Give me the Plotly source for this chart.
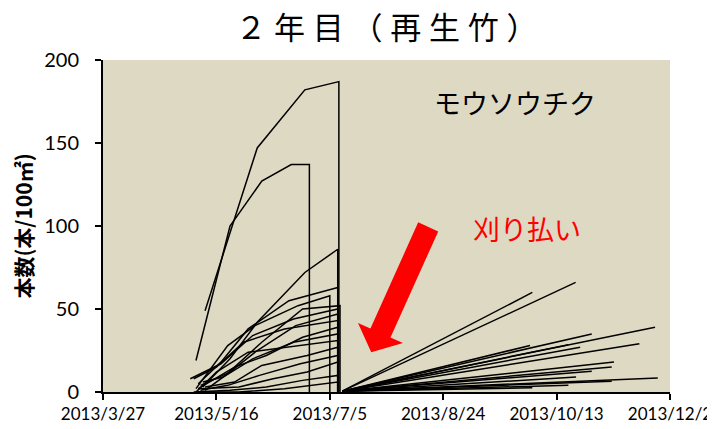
import plotly.graph_objects as go
import pandas as pd

BASE = pd.Timestamp("2013-03-27")

tick_dates = ["2013-03-27", "2013-05-16", "2013-07-05", "2013-08-24", "2013-10-13", "2013-12-02"]
tick_labels = ["2013/3/27", "2013/5/16", "2013/7/5", "2013/8/24", "2013/10/13", "2013/12/2"]
y_ticks = [0, 50, 100, 150, 200]

# Before cutting: days since 2013/3/27 and culm counts (per 100 m2)
pre_days = [
    [45, 68, 89, 104, 104],
    [41, 56, 70, 83, 91, 91],
    [44, 56, 68, 89, 103.5, 103.5],
    [42, 52, 64, 82, 103.5, 103.5],
    [41, 55, 67, 86, 100, 100],
    [45, 54, 70, 88, 104.5, 104.5],
    [43, 56, 68, 85, 103.5, 103.5],
    [40, 50, 62, 80, 103.5, 103.5],
    [42, 58, 72, 88, 103.5, 103.5],
    [44, 53, 66, 84, 103.5, 103.5],
    [41, 50, 64, 86, 103.5, 103.5],
    [45, 58, 70, 90, 103.5, 103.5],
    [43, 55, 69, 87, 103.5, 103.5],
    [42, 60, 75, 90, 103.5, 103.5],
    [40, 56, 72, 88, 103.5, 103.5],
    [44, 60, 80, 92, 103.5, 103.5],
    [38.5, 52, 66, 84, 103.5, 103.5],
]
pre_vals = [
    [49, 147, 182, 187, 0],
    [19, 100, 127, 137, 137, 0],
    [3, 20, 42, 72, 86, 0],
    [5, 18, 38, 55, 63, 0],
    [2, 28, 40, 52, 58, 0],
    [1, 10, 30, 50, 52, 0],
    [4, 12, 25, 40, 47, 0],
    [8, 15, 30, 38, 43, 0],
    [2, 15, 22, 33, 39, 0],
    [6, 9, 20, 30, 35, 0],
    [0, 12, 24, 28, 31, 0],
    [3, 6, 16, 22, 27, 0],
    [1, 4, 10, 17, 22, 0],
    [2, 3, 8, 12, 18, 0],
    [0, 1, 3, 7, 10, 0],
    [0, 0, 2, 4, 6, 0],
    [8, 17, 34, 44, 50, 0],
]

# After cutting: regrowth from the cutting date to the last survey
post_start_day = 105.5
post_start_val = 0.5
post_end_days = [189.3, 208.4, 215.5, 243.4, 236.5, 188.3, 205.2, 210.4,
                 225.3, 224.3, 215.5, 208.6, 244.6, 224.3, 205.2, 189.3]
post_end_vals = [60, 66, 35, 39, 29, 28, 28.5, 27,
                 18, 15, 12.5, 9, 8.5, 6.5, 4, 2.5]


def to_dates(days):
    return [BASE + pd.Timedelta(hours=d * 24) for d in days]


fig = go.Figure()
line_style = dict(color="black", width=1.5)

for d, v in zip(pre_days, pre_vals):
    fig.add_trace(go.Scatter(x=to_dates(d), y=v, mode="lines", line=line_style,
                             showlegend=False, hoverinfo="skip"))

for d, v in zip(post_end_days, post_end_vals):
    fig.add_trace(go.Scatter(x=to_dates([post_start_day, d]), y=[post_start_val, v],
                             mode="lines", line=line_style,
                             showlegend=False, hoverinfo="skip"))

# Red arrow (paper coordinates)
arrow_pts = [(0.5559, 0.5111), (0.5912, 0.4838), (0.5070, 0.1638), (0.5290, 0.1475),
             (0.4731, 0.1195), (0.4497, 0.2077), (0.4717, 0.1914)]
path = "M " + " L ".join(f"{x},{y}" for x, y in arrow_pts) + " Z"
fig.add_shape(type="path", path=path, xref="paper", yref="paper",
              fillcolor="#FF0000", line=dict(width=0), layer="above")

fig.add_annotation(text="モウソウチク", xref="paper", yref="paper", x=0.727, y=0.872,
                   xanchor="center", yanchor="middle",
                   showarrow=False, font=dict(family="Noto Sans CJK JP", size=27, color="black"))
fig.add_annotation(text="刈り払い", xref="paper", yref="paper", x=0.748, y=0.493,
                   xanchor="center", yanchor="middle",
                   showarrow=False, font=dict(family="Noto Sans CJK JP", size=27, color="#FF0000"))

sp = "\u2005"
title_text = sp.join("２年目（再生竹）")

# The page body adds an 8px offset, so the figure is sized to fit the window.
W, H = 707, 421
fig.update_layout(
    width=W, height=H,
    margin=dict(l=94.5, r=45, t=51.5, b=37.3),
    paper_bgcolor="white",
    plot_bgcolor="#DDD9C3",
    title=dict(text=title_text, x=0.5, xref="paper", y=1 - 20 / H, yref="container",
               xanchor="center", yanchor="middle",
               font=dict(family="Noto Sans CJK JP", size=31, color="black")),
    xaxis=dict(
        type="date", automargin=False,
        range=[tick_dates[0], tick_dates[-1]],
        tickvals=tick_dates, ticktext=tick_labels,
        showgrid=False, zeroline=False,
        showline=True, linecolor="black", linewidth=2,
        ticks="outside", ticklen=6, tickwidth=2, tickcolor="black",
        tickfont=dict(family="Lato", size=17, color="black"),
    ),
    yaxis=dict(
        range=[0, 200], tickvals=y_ticks, automargin=False,
        showgrid=False, zeroline=False,
        showline=True, linecolor="black", linewidth=2,
        ticks="outside", ticklen=6, tickwidth=2, tickcolor="black",
        ticklabelstandoff=12,
        tickfont=dict(family="Lato", size=20, color="black"),
        title=dict(text="<b>本数(本/100㎡)</b>", standoff=8,
                   font=dict(family="Noto Sans CJK JP", size=21, color="black")),
    ),
)

fig.write_html("out.html")
